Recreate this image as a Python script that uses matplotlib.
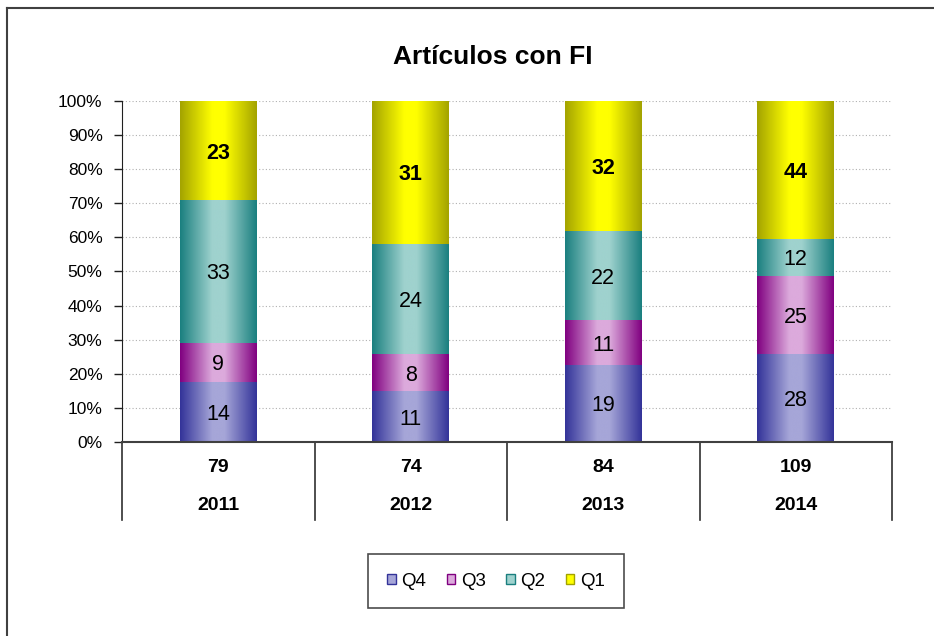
import matplotlib.pyplot as plt
import numpy as np
from matplotlib.colors import LinearSegmentedColormap
from matplotlib.patches import Patch
from matplotlib.lines import Line2D
import matplotlib.transforms as mtransforms

plt.rcParams['font.family'] = ['Liberation Sans', 'DejaVu Sans']

# datos
years = ['2011', '2012', '2013', '2014']
totals = [79, 74, 84, 109]
series = ['Q4', 'Q3', 'Q2', 'Q1']
q4 = [14, 11, 19, 28]
q3 = [9, 8, 11, 25]
q2 = [33, 24, 22, 12]
q1 = [23, 31, 32, 44]

# colores (borde, centro) del degradado
edge_cols = ['#333399', '#800080', '#1a7f7f', '#a3a300']
mid_cols = ['#a6a6d8', '#dcaadc', '#9fd2ce', '#ffff00']

fig = plt.figure(figsize=(9.34, 6.36), dpi=100)
ax = fig.add_axes([122/934, 1 - 442/636, (892 - 122)/934, 341/636])

x = np.arange(len(years))
vals = np.array([q4, q3, q2, q1], dtype=float)
pct = vals / vals.sum(axis=0) * 100
width = 0.4

bottom = np.zeros(len(years))
for i, name in enumerate(series):
    cmap = LinearSegmentedColormap.from_list(
        name, [(0, edge_cols[i]), (0.42, mid_cols[i]), (0.58, mid_cols[i]), (1, edge_cols[i])])
    bars = ax.bar(x, pct[i], width, bottom=bottom, color='none', edgecolor='none', zorder=3)
    grad = np.linspace(0, 1, 256).reshape(1, -1)
    for j, b in enumerate(bars):
        im = ax.imshow(grad, cmap=cmap, aspect='auto', interpolation='bicubic',
                       extent=(b.get_x(), b.get_x() + b.get_width(), bottom[j], bottom[j] + pct[i][j]),
                       zorder=2)
        im.set_clip_path(b)
        ax.text(x[j], bottom[j] + pct[i][j] / 2, '%d' % vals[i][j],
                ha='center', va='center_baseline', fontsize=15.5,
                fontweight='bold' if name == 'Q1' else 'normal', zorder=4)
    bottom += pct[i]

ax.set_xlim(-0.5, len(years) - 0.5)
ax.set_ylim(0, 100)
ax.set_yticks(np.arange(0, 101, 10))
ax.set_yticklabels(['%d%%' % v for v in range(0, 101, 10)], fontsize=12.5)
ax.tick_params(axis='y', direction='out', length=6, width=1, pad=8, color='#202020')
ax.set_xticks([])
ax.yaxis.grid(True, linestyle=(0, (1, 2)), color='#b0b0b0', linewidth=0.8)
ax.set_axisbelow(True)
for s in ['top', 'right']:
    ax.spines[s].set_visible(False)
ax.spines['left'].set_color('#202020')
ax.spines['bottom'].set_color('#404040')
ax.spines['bottom'].set_linewidth(1.5)

# tabla de categorias
trans = mtransforms.blended_transform_factory(ax.transData, ax.transAxes)
low = -(520 - 442) / 341
for k in range(len(years) + 1):
    ax.add_line(Line2D([k - 0.5, k - 0.5], [0, low], transform=trans, color='#303030',
                       linewidth=1.2, clip_on=False))
for j in range(len(years)):
    ax.text(x[j], -(467 - 442) / 341, str(totals[j]), transform=trans, ha='center', va='center',
            fontsize=14, fontweight='bold')
    ax.text(x[j], -(506 - 442) / 341, years[j], transform=trans, ha='center', va='center',
            fontsize=14, fontweight='bold')

fig.text(493 / 934, 1 - 57 / 636, 'Artículos con FI', ha='center', va='center',
         fontsize=19, fontweight='bold')

handles = [Patch(facecolor=mid_cols[i], edgecolor=edge_cols[i], linewidth=1.0) for i in range(4)]
leg = fig.legend(handles, series, loc='center', bbox_to_anchor=(496 / 934, 1 - 581 / 636),
                 ncol=4, fontsize=13.5, frameon=True, fancybox=False, borderpad=1.0,
                 handlelength=0.45, handleheight=0.45, handletextpad=0.3, columnspacing=1.1)
leg.get_frame().set_edgecolor('#202020')
leg.get_frame().set_linewidth(1.2)

# borde del grafico
fig.add_artist(Line2D([7 / 934, 1], [1 - 8 / 636, 1 - 8 / 636], transform=fig.transFigure,
                      color='#404040', linewidth=1.5))
fig.add_artist(Line2D([7 / 934, 7 / 934], [0, 1 - 8 / 636], transform=fig.transFigure,
                      color='#404040', linewidth=1.5))

fig.savefig('out.png', dpi=100)
